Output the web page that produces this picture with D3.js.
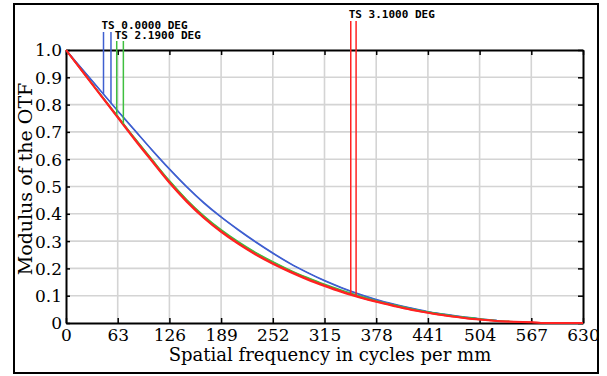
<!DOCTYPE html>
<html><head><meta charset="utf-8">
<script src="https://cdn.jsdelivr.net/npm/d3@7"></script>
<style>body{margin:0;background:#fff;}svg{display:block;}</style>
</head><body>
<script>
// ---- data ----
const freq = [0,21,42,63,84,105,126,147,168,189,210,231,252,273,294,315,336,357,378,399,420,441,462,483,504,525,546,567,588,609,630];
const blueT  = [1.0,0.926,0.852,0.778,0.706,0.634,0.565,0.500,0.441,0.389,0.342,0.298,0.257,0.219,0.186,0.156,0.130,0.107,0.087,0.070,0.055,0.042,0.032,0.023,0.016,null,null,null,null,null,null];
const blueS  = [1.0,0.925,0.850,0.776,0.704,0.632,0.563,0.498,0.439,0.387,0.340,0.296,0.255,0.217,0.184,0.154,0.128,0.105,0.085,0.068,0.054,0.041,0.031,0.022,0.015,0.010,null,null,null,null,null];
const greenT = [1.0,0.919,0.838,0.758,0.677,0.599,0.522,0.453,0.393,0.342,0.298,0.259,0.225,0.194,0.167,0.142,0.120,0.100,0.082,0.067,0.053,0.041,0.031,0.022,0.015,0.009,0.005,null,null,null,null];
const greenS = [1.0,0.918,0.837,0.756,0.675,0.597,0.520,0.451,0.391,0.340,0.296,0.257,0.223,0.192,0.165,0.140,0.118,0.098,0.080,0.065,0.051,0.040,0.030,0.021,0.014,0.008,0.005,null,null,null,null];
const redT   = [1.0,0.918,0.836,0.755,0.673,0.594,0.516,0.447,0.387,0.336,0.292,0.253,0.219,0.189,0.162,0.138,0.116,0.096,0.079,0.064,0.050,0.038,0.028,0.020,0.013,0.008,0.005,0.003,0.0,0.0,0.0];
const redS   = [1.0,0.917,0.834,0.752,0.670,0.591,0.513,0.444,0.384,0.333,0.289,0.250,0.216,0.186,0.159,0.135,0.113,0.094,0.077,0.062,0.048,0.037,0.027,0.019,0.012,0.007,0.004,0.002,0.0,0.0,0.0];
const seriesVals = [blueT,blueS,greenT,greenS,redT,redS];
const seriesColors = ["#3f5fd0","#3f5fd0","#3fbf3f","#3fbf3f","#ff2222","#ff2222"];
const markerFreq = [45.7,54.8,61.8,69.9,347,353.5];
const fieldLabels = ["TS 0.0000 DEG","TS 2.1900 DEG","TS 3.1000 DEG"];
const xTicks = [0,63,126,189,252,315,378,441,504,567,630];
const yTicks = [0,0.1,0.2,0.3,0.4,0.5,0.6,0.7,0.8,0.9,1.0];
const yTickLabels = ["0","0.1","0.2","0.3","0.4","0.5","0.6","0.7","0.8","0.9","1.0"];

// ---- layout ----
const W=607,H=376;
const L=66,R=583,T=50,B=323;
const svg=d3.select("body").append("svg").attr("width",W).attr("height",H);
svg.append("rect").attr("x",14).attr("y",4).attr("width",584).attr("height",369)
  .attr("fill","none").attr("stroke","#000").attr("stroke-width",2);

const x=d3.scaleLinear().domain([0,630]).range([L,R]);
const y=d3.scaleLinear().domain([0,1]).range([B,T]);

// grid
svg.append("g").selectAll("line").data(xTicks.slice(1,-1)).join("line")
  .attr("x1",d=>x(d)).attr("x2",d=>x(d)).attr("y1",T).attr("y2",B)
  .attr("stroke","#d4d4d4").attr("stroke-width",1.6);
svg.append("g").selectAll("line").data(yTicks.slice(1,-1)).join("line")
  .attr("y1",d=>y(d)).attr("y2",d=>y(d)).attr("x1",L).attr("x2",R)
  .attr("stroke","#d4d4d4").attr("stroke-width",1.6);

// axes (inward ticks)
const serif='"DejaVu Serif", serif';
const gx=svg.append("g").attr("transform",`translate(0,${B})`)
  .call(d3.axisBottom(x).tickValues(xTicks).tickSizeInner(-5).tickSizeOuter(0).tickPadding(6).tickFormat(d3.format("d")));
const gxt=svg.append("g").attr("transform",`translate(0,${T})`)
  .call(d3.axisTop(x).tickValues(xTicks).tickSizeInner(-5).tickSizeOuter(0).tickFormat(""));
const gy=svg.append("g").attr("transform",`translate(${L},0)`)
  .call(d3.axisLeft(y).tickValues(yTicks).tickSizeInner(-4).tickSizeOuter(0).tickPadding(4).tickFormat((d,i)=>yTickLabels[i]));
const gyr=svg.append("g").attr("transform",`translate(${R},0)`)
  .call(d3.axisRight(y).tickValues(yTicks).tickSizeInner(-5).tickSizeOuter(0).tickFormat(""));
[gx,gxt,gy,gyr].forEach(g=>{
  g.selectAll("path").attr("stroke","#000").attr("stroke-width",2);
  g.selectAll("line").attr("stroke","#000").attr("stroke-width",1.5);
  g.selectAll("text").attr("font-family",serif).attr("font-size",17).attr("fill","#000");
});
gy.selectAll("text").attr("dy","0.35em");

// curves
const line=d3.line().defined(d=>d[1]!=null).x(d=>x(d[0])).y(d=>y(d[1])).curve(d3.curveMonotoneX);
seriesVals.forEach((vals,i)=>{
  svg.append("path").datum(freq.map((f,j)=>[f,vals[j]]))
    .attr("d",line).attr("fill","none").attr("stroke",seriesColors[i])
    .attr("stroke-width",i>=4?1.8:1.3);
});

// legend markers
const interp=(vals,f)=>{
  for(let j=0;j<freq.length-1;j++){
    if(f>=freq[j]&&f<=freq[j+1]){const t=(f-freq[j])/(freq[j+1]-freq[j]);return vals[j]+(vals[j+1]-vals[j])*t;}
  }
  return 0;
};
const markerTop=[32,32,41,41,21,21];
markerFreq.forEach((f,i)=>{
  svg.append("line").attr("x1",x(f)).attr("x2",x(f)).attr("y1",markerTop[i]).attr("y2",y(interp(seriesVals[i],f)))
    .attr("stroke",seriesColors[i]).attr("stroke-width",1.5);
});
const mono='"DejaVu Sans Mono", monospace';
const labelPos=[[markerFreq[0],29],[markerFreq[2],39],[markerFreq[4],18]];
fieldLabels.forEach((t,i)=>{
  svg.append("text").attr("x",x(labelPos[i][0])-2).attr("y",labelPos[i][1]).text(t)
    .attr("font-family",mono).attr("font-weight","bold").attr("font-size",11).attr("fill","#000");
});

// titles
svg.append("text").attr("x",330).attr("y",361).attr("text-anchor","middle")
  .attr("font-family",serif).attr("font-size",18).text("Spatial frequency in cycles per mm");
svg.append("text").attr("transform","translate(32,179) rotate(-90)").attr("text-anchor","middle")
  .attr("font-family",serif).attr("font-size",19).text("Modulus of the OTF");
</script>
</body></html>
